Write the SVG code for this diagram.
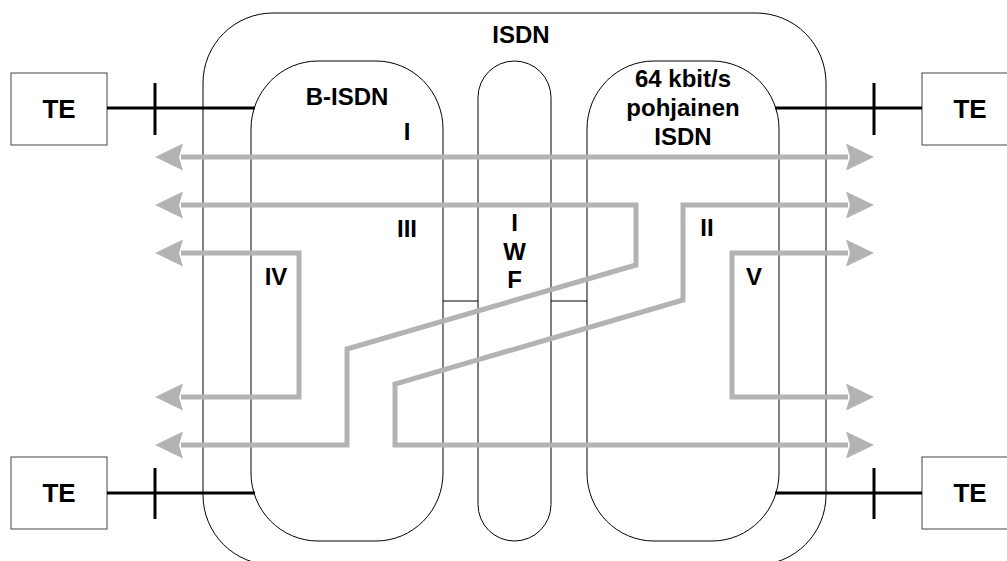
<svg xmlns="http://www.w3.org/2000/svg" width="1007" height="561" viewBox="0 0 1007 561">
<style>
.area{fill:none;stroke:#000;stroke-width:1}
.box{fill:#fff;stroke:#444;stroke-width:1}
.lbl{font-family:"Liberation Sans",Arial,sans-serif;font-weight:bold;font-size:24px;fill:#000;text-anchor:middle}
.te{font-size:26px}
.link{stroke:#000;stroke-width:3;fill:none}
.flow{fill:none;stroke:#b3b3b3;stroke-width:5;stroke-linejoin:miter;marker-start:url(#ah);marker-end:url(#ah)}
</style>
<defs>
<marker id="ah" markerUnits="userSpaceOnUse" markerWidth="28" markerHeight="27" viewBox="0 0 28 27" refX="2" refY="13.5" orient="auto-start-reverse">
<path d="M0,0 L28,13.5 L0,27 L4,13.5 Z" fill="#b3b3b3"/>
</marker>
</defs>
<rect width="1007" height="561" fill="#fff"/>
<g id="isdn">
<rect class="area" x="203" y="13" width="623" height="552" rx="70" ry="70"/>
<text class="lbl" x="521" y="43">ISDN</text>
</g>
<g id="b-isdn">
<rect class="area" x="251" y="61" width="192" height="480" rx="67" ry="68"/>
<text class="lbl" x="347" y="105">B-ISDN</text>
</g>
<g id="iwf">
<rect class="area" x="478" y="61" width="73" height="480" rx="36.5" ry="36.5"/>
<line class="area" x1="443" y1="301" x2="478" y2="301"/>
<line class="area" x1="551" y1="301" x2="587" y2="301"/>
<text class="lbl" x="514.5" y="231">I</text>
<text class="lbl" x="514.5" y="260">W</text>
<text class="lbl" x="514.5" y="288">F</text>
</g>
<g id="isdn64">
<rect class="area" x="587" y="61" width="192" height="480" rx="67" ry="68"/>
<text class="lbl" x="683" y="87">64 kbit/s</text>
<text class="lbl" x="683" y="116">pohjainen</text>
<text class="lbl" x="683" y="145">ISDN</text>
</g>
<g id="te-tl">
<rect class="box" x="11" y="73" width="96" height="72"/>
<text class="lbl te" x="59" y="118">TE</text>
</g>
<g id="te-bl">
<rect class="box" x="11" y="457" width="96" height="72"/>
<text class="lbl te" x="59" y="502">TE</text>
</g>
<g id="te-tr">
<rect class="box" x="922" y="73" width="96" height="72"/>
<text class="lbl te" x="970" y="118">TE</text>
</g>
<g id="te-br">
<rect class="box" x="922" y="457" width="96" height="72"/>
<text class="lbl te" x="970" y="502">TE</text>
</g>
<g id="connectors">
<line class="link" x1="107" y1="108" x2="255" y2="108"/>
<line class="link" x1="155" y1="83" x2="155" y2="135"/>
<line class="link" x1="107" y1="493" x2="255" y2="493"/>
<line class="link" x1="155" y1="468" x2="155" y2="519"/>
<line class="link" x1="775" y1="108" x2="922" y2="108"/>
<line class="link" x1="874" y1="83" x2="874" y2="135"/>
<line class="link" x1="775" y1="493" x2="922" y2="493"/>
<line class="link" x1="874" y1="468" x2="874" y2="519"/>
<path class="flow" d="M181,157 H848"/>
<path class="flow" d="M181,205 H636 V265 L347,349 V445 H181"/>
<path class="flow" d="M848,205 H683 V300 L395,384 V445 H848"/>
<path class="flow" d="M181,253 H299 V397 H181"/>
<path class="flow" d="M848,253 H732 V397 H848"/>
</g>
<g id="labels">
<text class="lbl" x="407" y="140">I</text>
<text class="lbl" x="407" y="237">III</text>
<text class="lbl" x="707" y="236">II</text>
<text class="lbl" x="276" y="285">IV</text>
<text class="lbl" x="754" y="285">V</text>
</g>
</svg>
